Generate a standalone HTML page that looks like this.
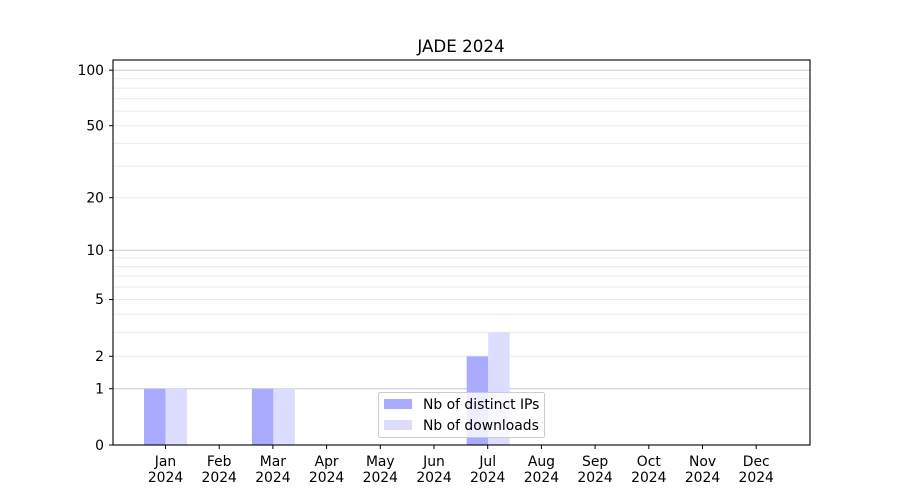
<!DOCTYPE html>
<html><head><meta charset="utf-8"><style>body{margin:0;background:#fff}svg{display:block}text{font-family:"DejaVu Sans","Liberation Sans",sans-serif;font-size:13.9px;fill:#000}</style></head>
<body>
<svg width="900" height="500" xmlns="http://www.w3.org/2000/svg">
<rect width="900" height="500" fill="#fff"/>
<g stroke="#ebebeb" stroke-width="1">
<line x1="113" x2="810" y1="356.3" y2="356.3"/><line x1="113" x2="810" y1="332.4" y2="332.4"/><line x1="113" x2="810" y1="314.3" y2="314.3"/><line x1="113" x2="810" y1="299.5" y2="299.5"/><line x1="113" x2="810" y1="287" y2="287"/><line x1="113" x2="810" y1="276.1" y2="276.1"/><line x1="113" x2="810" y1="266.6" y2="266.6"/><line x1="113" x2="810" y1="258" y2="258"/>
<line x1="113" x2="810" y1="197.7" y2="197.7"/><line x1="113" x2="810" y1="166.1" y2="166.1"/><line x1="113" x2="810" y1="143.4" y2="143.4"/><line x1="113" x2="810" y1="125.7" y2="125.7"/><line x1="113" x2="810" y1="111.1" y2="111.1"/><line x1="113" x2="810" y1="98.8" y2="98.8"/><line x1="113" x2="810" y1="88.1" y2="88.1"/><line x1="113" x2="810" y1="78.7" y2="78.7"/>
</g>
<g stroke="#cccccc" stroke-width="1">
<line x1="113" x2="810" y1="388.7" y2="388.7"/><line x1="113" x2="810" y1="250.3" y2="250.3"/><line x1="113" x2="810" y1="70.2" y2="70.2"/>
</g>
<g>
<rect x="144" y="388.7" width="21.5" height="56.3" fill="#aaaaff"/><rect x="165.5" y="388.7" width="21.5" height="56.3" fill="#ddddff"/>
<rect x="251.9" y="388.7" width="21.5" height="56.3" fill="#aaaaff"/><rect x="273.4" y="388.7" width="21.5" height="56.3" fill="#ddddff"/>
<rect x="466.7" y="356.3" width="21.5" height="88.7" fill="#aaaaff"/><rect x="488.2" y="332.4" width="21.5" height="112.6" fill="#ddddff"/>
</g>
<rect x="113" y="60" width="697" height="385" fill="none" stroke="#000" stroke-width="1.1"/>
<g stroke="#000">
<line x1="109" x2="113" y1="445" y2="445"/><line x1="109" x2="113" y1="388.7" y2="388.7"/><line x1="109" x2="113" y1="356.3" y2="356.3"/><line x1="109" x2="113" y1="299.5" y2="299.5"/><line x1="109" x2="113" y1="250.3" y2="250.3"/><line x1="109" x2="113" y1="197.7" y2="197.7"/><line x1="109" x2="113" y1="125.7" y2="125.7"/><line x1="109" x2="113" y1="70.2" y2="70.2"/>
</g>
<g text-anchor="end">
<text x="104" y="450">0</text><text x="104" y="393.5">1</text><text x="104" y="361">2</text><text x="104" y="304">5</text><text x="104" y="255">10</text><text x="104" y="202.5">20</text><text x="104" y="130.5">50</text><text x="104" y="75">100</text>
</g>
<g stroke="#000">
<line x1="165.5" x2="165.5" y1="445" y2="449"/><line x1="219.2" x2="219.2" y1="445" y2="449"/><line x1="272.9" x2="272.9" y1="445" y2="449"/><line x1="326.6" x2="326.6" y1="445" y2="449"/><line x1="380.3" x2="380.3" y1="445" y2="449"/><line x1="434" x2="434" y1="445" y2="449"/><line x1="487.7" x2="487.7" y1="445" y2="449"/><line x1="541.4" x2="541.4" y1="445" y2="449"/><line x1="595.1" x2="595.1" y1="445" y2="449"/><line x1="648.8" x2="648.8" y1="445" y2="449"/><line x1="702.5" x2="702.5" y1="445" y2="449"/><line x1="756.2" x2="756.2" y1="445" y2="449"/>
</g>
<g text-anchor="middle">
<text x="165.5" y="466">Jan</text><text x="165.5" y="482">2024</text>
<text x="219.2" y="466">Feb</text><text x="219.2" y="482">2024</text>
<text x="272.9" y="466">Mar</text><text x="272.9" y="482">2024</text>
<text x="326.6" y="466">Apr</text><text x="326.6" y="482">2024</text>
<text x="380.3" y="466">May</text><text x="380.3" y="482">2024</text>
<text x="434" y="466">Jun</text><text x="434" y="482">2024</text>
<text x="487.7" y="466">Jul</text><text x="487.7" y="482">2024</text>
<text x="541.4" y="466">Aug</text><text x="541.4" y="482">2024</text>
<text x="595.1" y="466">Sep</text><text x="595.1" y="482">2024</text>
<text x="648.8" y="466">Oct</text><text x="648.8" y="482">2024</text>
<text x="702.5" y="466">Nov</text><text x="702.5" y="482">2024</text>
<text x="756.2" y="466">Dec</text><text x="756.2" y="482">2024</text>
<text x="461" y="52" style="font-size:16.7px">JADE 2024</text>
</g>
<rect x="378.5" y="392.5" width="166" height="45" rx="2" fill="#fff" fill-opacity="0.8" stroke="#cccccc"/>
<rect x="384" y="399" width="28" height="10" fill="#aaaaff"/>
<rect x="384" y="420" width="28" height="10" fill="#ddddff"/>
<text x="423" y="409">Nb of distinct IPs</text>
<text x="423" y="430">Nb of downloads</text>
</svg>
</body></html>
